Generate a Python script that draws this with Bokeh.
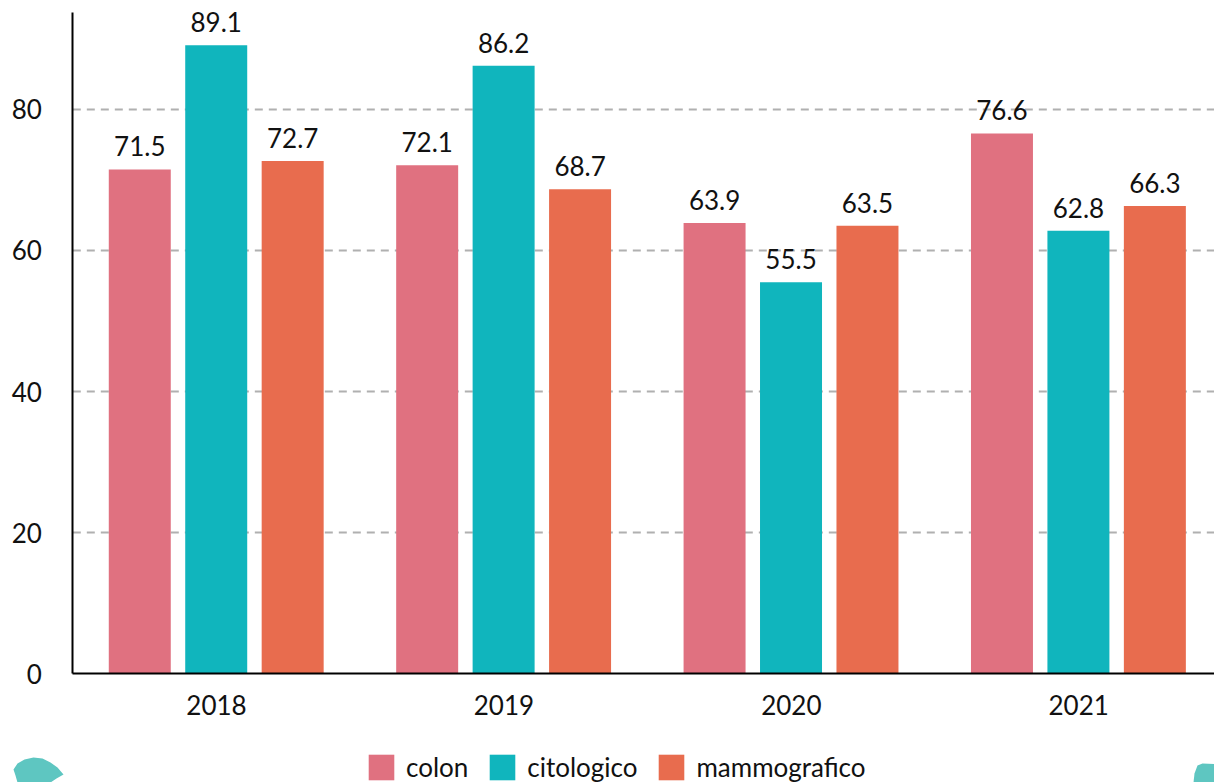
from bokeh.plotting import figure
from bokeh.models import ColumnDataSource, Range1d, FixedTicker, Legend, LegendItem, PolyAnnotation
from bokeh.transform import dodge
from bokeh.core.properties import value
from bokeh.embed import file_html
from bokeh.resources import INLINE

years = ["2018", "2019", "2020", "2021"]
colon = [71.5, 72.1, 63.9, 76.6]
citologico = [89.1, 86.2, 55.5, 62.8]
mammografico = [72.7, 68.7, 63.5, 66.3]
series = [("colon", colon, "#e07180", -0.267), ("citologico", citologico, "#10b5bd", -0.001), ("mammografico", mammografico, "#e86c4e", 0.265)]
yticks = [0, 20, 40, 60, 80]
FONT = "Lato"
X0, X1 = -0.7516, 3.4725     # frame spans the whole canvas so decorations and legend can sit below the axis
Y0, Y1 = -15.46, 95.46
AX_LEFT, AX_TOP = -0.5, 93.76
H = 782

p = figure(width=1214, height=H, output_backend="svg", toolbar_location=None,
           x_range=Range1d(X0, X1), y_range=Range1d(Y0, Y1),
           min_border_left=0, min_border_right=0, min_border_top=0, min_border_bottom=0)
p.outline_line_color = None
p.background_fill_color = "white"
p.grid.visible = False

p.xaxis.fixed_location = 0
p.yaxis.fixed_location = AX_LEFT
p.xaxis.bounds = (AX_LEFT, X1)
p.yaxis.bounds = (0, AX_TOP)
p.xaxis.ticker = FixedTicker(ticks=list(range(len(years))))
p.xaxis.major_label_overrides = {i: y for i, y in enumerate(years)}
p.yaxis.ticker = FixedTicker(ticks=yticks)
for ax in (p.xaxis[0], p.yaxis[0]):
    ax.axis_line_color = "black"
    ax.axis_line_width = 2
    ax.major_tick_line_color = None
    ax.minor_tick_line_color = None
    ax.major_label_text_font = FONT
    ax.major_label_text_font_size = "26px"
    ax.major_label_text_color = "#111111"
p.xaxis[0].major_label_standoff = 15
p.yaxis[0].major_label_standoff = 25

gy = yticks[1:]
p.segment(x0=[AX_LEFT] * len(gy), x1=[X1] * len(gy), y0=gy, y1=gy, line_color="#b0b0b0",
          line_width=2, line_dash="8 6", level="underlay")

x = list(range(len(years)))
items = []
for name, vals, col, off in series:
    src = ColumnDataSource(dict(x=x, top=vals, label=[f"{v:.1f}" for v in vals]))
    r = p.vbar(x=dodge("x", off, range=p.x_range), top="top", bottom=0, width=0.2157, source=src,
               fill_color=col, line_color=None)
    p.text(x=dodge("x", off, range=p.x_range), y="top", text="label", source=src, y_offset=-23,
           text_align="center", text_baseline="alphabetic", text_font=value(FONT),
           text_font_size="26px", text_color="#111111")
    items.append(LegendItem(label=name, renderers=[r]))

legend = Legend(items=items, orientation="horizontal", location=(365, -8), background_fill_alpha=0,
                border_line_color=None, glyph_width=32, glyph_height=32, label_standoff=9, spacing=18,
                padding=0, margin=0, label_text_font=FONT, label_text_font_size="26px",
                label_text_color="#111111", label_height=46)
p.add_layout(legend, "center")

# decorative leaves at the page's bottom edge (pixel y measured from the top, flipped for screen units)
leaf1_x = [13, 17, 24, 33, 42, 50, 57, 63, 56, 50, 17, 15]
leaf1_y = [769, 763, 759, 757, 758, 762, 767, 774, 778, 782, 782, 775]
leaf2_x = [1193, 1194, 1197, 1202, 1214, 1214]
leaf2_y = [782, 773, 765, 763, 763.5, 782]
for xs, ys in ((leaf1_x, leaf1_y), (leaf2_x, leaf2_y)):
    p.add_layout(PolyAnnotation(xs=xs, ys=[H - v for v in ys], xs_units="screen", ys_units="screen",
                                fill_color="#5ec6c1", fill_alpha=1, line_color=None, level="overlay"))

open("out.html", "w").write(file_html(p, INLINE))
